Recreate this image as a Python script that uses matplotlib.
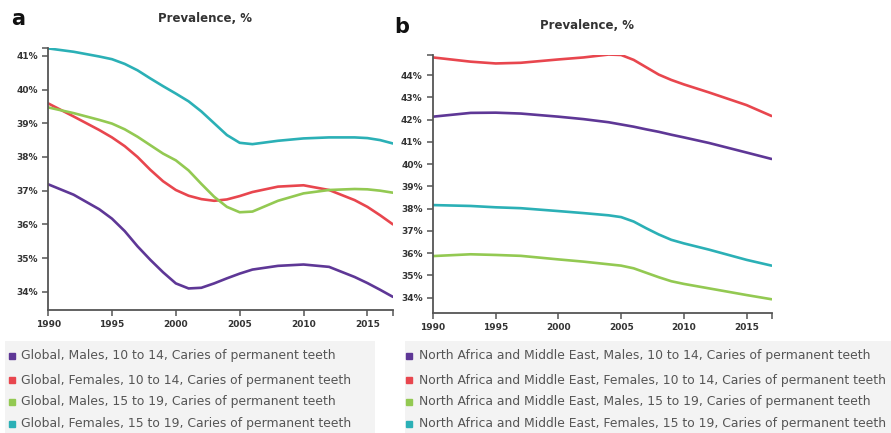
import matplotlib
matplotlib.use("Agg")
import matplotlib.pyplot as plt
from matplotlib.patches import Rectangle
from matplotlib.lines import Line2D
from matplotlib.ticker import FuncFormatter

# panel a: global
years_a = [1990, 1992, 1994, 1995, 1996, 1997, 1998, 1999, 2000, 2001, 2002,
           2003, 2004, 2005, 2006, 2008, 2010, 2012, 2014, 2015, 2016, 2017]
glob_m_10_14 = [37.19, 36.88, 36.45, 36.17, 35.80, 35.35, 34.95, 34.58, 34.25, 34.10, 34.12,
                34.25, 34.40, 34.54, 34.66, 34.77, 34.81, 34.74, 34.44, 34.26, 34.06, 33.85]
glob_f_10_14 = [39.59, 39.20, 38.80, 38.58, 38.32, 38.00, 37.62, 37.28, 37.02, 36.85, 36.75,
                36.70, 36.74, 36.84, 36.96, 37.12, 37.16, 37.02, 36.72, 36.52, 36.27, 36.00]
glob_m_15_19 = [39.47, 39.30, 39.10, 38.99, 38.82, 38.60, 38.35, 38.10, 37.90, 37.60, 37.20,
                36.82, 36.52, 36.36, 36.38, 36.70, 36.92, 37.02, 37.05, 37.04, 37.00, 36.94]
glob_f_15_19 = [41.22, 41.12, 40.98, 40.90, 40.76, 40.57, 40.33, 40.10, 39.88, 39.65, 39.35,
                39.00, 38.65, 38.42, 38.38, 38.48, 38.55, 38.58, 38.58, 38.56, 38.50, 38.40]

# panel b: North Africa and Middle East
years_b = [1990, 1993, 1995, 1997, 2000, 2002, 2004, 2005, 2006, 2007, 2008,
           2009, 2010, 2012, 2015, 2017]
name_m_10_14 = [42.13, 42.30, 42.31, 42.27, 42.13, 42.02, 41.88, 41.78, 41.68, 41.56, 41.45,
                41.32, 41.20, 40.95, 40.52, 40.23]
name_f_10_14 = [44.79, 44.60, 44.52, 44.55, 44.70, 44.79, 44.92, 44.90, 44.68, 44.35, 44.02,
                43.78, 43.58, 43.22, 42.65, 42.16]
name_m_15_19 = [35.87, 35.95, 35.92, 35.88, 35.72, 35.62, 35.50, 35.44, 35.32, 35.12, 34.92,
                34.74, 34.62, 34.42, 34.12, 33.93]
name_f_15_19 = [38.16, 38.12, 38.06, 38.02, 37.89, 37.80, 37.70, 37.62, 37.42, 37.12, 36.84,
                36.60, 36.44, 36.16, 35.70, 35.44]

groups = ["Males, 10 to 14", "Females, 10 to 14", "Males, 15 to 19", "Females, 15 to 19"]
colors = ["#5e3796", "#e8464e", "#93c952", "#2bb0b6"]
cause = "Caries of permanent teeth"

panels = [
    dict(pos=[0.054, 0.284, 0.387, 0.605], years=years_a, ylim=(33.46, 41.23),
         yticks=range(34, 42), region="Global", letter="a",
         series=[glob_m_10_14, glob_f_10_14, glob_m_15_19, glob_f_15_19],
         letter_xy=(0.012, 0.955), title_xy=(0.230, 0.958),
         leg_box=(0.006, 0.0, 0.415, 0.212), leg_x=0.013),
    dict(pos=[0.486, 0.278, 0.380, 0.595], years=years_b, ylim=(33.33, 44.9),
         yticks=range(34, 45), region="North Africa and Middle East", letter="b",
         series=[name_m_10_14, name_f_10_14, name_m_15_19, name_f_15_19],
         letter_xy=(0.443, 0.937), title_xy=(0.659, 0.94),
         leg_box=(0.455, 0.0, 0.545, 0.212), leg_x=0.459),
]

fig = plt.figure(figsize=(8.91, 4.33), dpi=100)
axis_col = "#555555"
row_y = [0.178, 0.122, 0.072, 0.021]

for p in panels:
    ax = fig.add_axes(p["pos"])
    for vals, c in zip(p["series"], colors):
        ax.plot(p["years"], vals, color=c, lw=1.9, solid_capstyle="round")
    ax.set_xlim(1990, 2017)
    ax.set_ylim(*p["ylim"])
    ax.set_xticks([1990, 1995, 2000, 2005, 2010, 2015])
    ax.set_xticks([2017], minor=True)
    ax.set_yticks(list(p["yticks"]))
    ax.set_yticks([p["ylim"][1]], minor=True)
    ax.yaxis.set_major_formatter(FuncFormatter(lambda v, _: f"{v:.0f}%"))
    for s in ["top", "right"]:
        ax.spines[s].set_visible(False)
    for s in ["left", "bottom"]:
        ax.spines[s].set_color(axis_col)
        ax.spines[s].set_linewidth(1.3)
    ax.tick_params(which="both", colors=axis_col, labelcolor="#333333", labelsize=6.5,
                   length=4, width=1.1, direction="out")
    for lbl in ax.get_xticklabels() + ax.get_yticklabels():
        lbl.set_fontweight("bold")

    fig.text(*p["title_xy"], "Prevalence, %", ha="center", va="center",
             fontsize=8.5, fontweight="bold", color="#333333")
    fig.text(*p["letter_xy"], p["letter"], ha="left", va="center",
             fontsize=15, fontweight="bold", color="#111111")

    # legend block under each panel
    bx, by, bw, bh = p["leg_box"]
    fig.add_artist(Rectangle((bx, by), bw, bh, transform=fig.transFigure,
                             facecolor="#f3f3f3", edgecolor="none", zorder=0))
    for g, c, ry in zip(groups, colors, row_y):
        fig.add_artist(Line2D([p["leg_x"]], [ry], transform=fig.transFigure, marker="s",
                              markersize=4.5, color=c, linestyle="none"))
        fig.text(p["leg_x"] + 0.011, ry, f"{p['region']}, {g}, {cause}", ha="left",
                 va="center", fontsize=8.9, color="#555555")

fig.savefig("out.png", dpi=100)
